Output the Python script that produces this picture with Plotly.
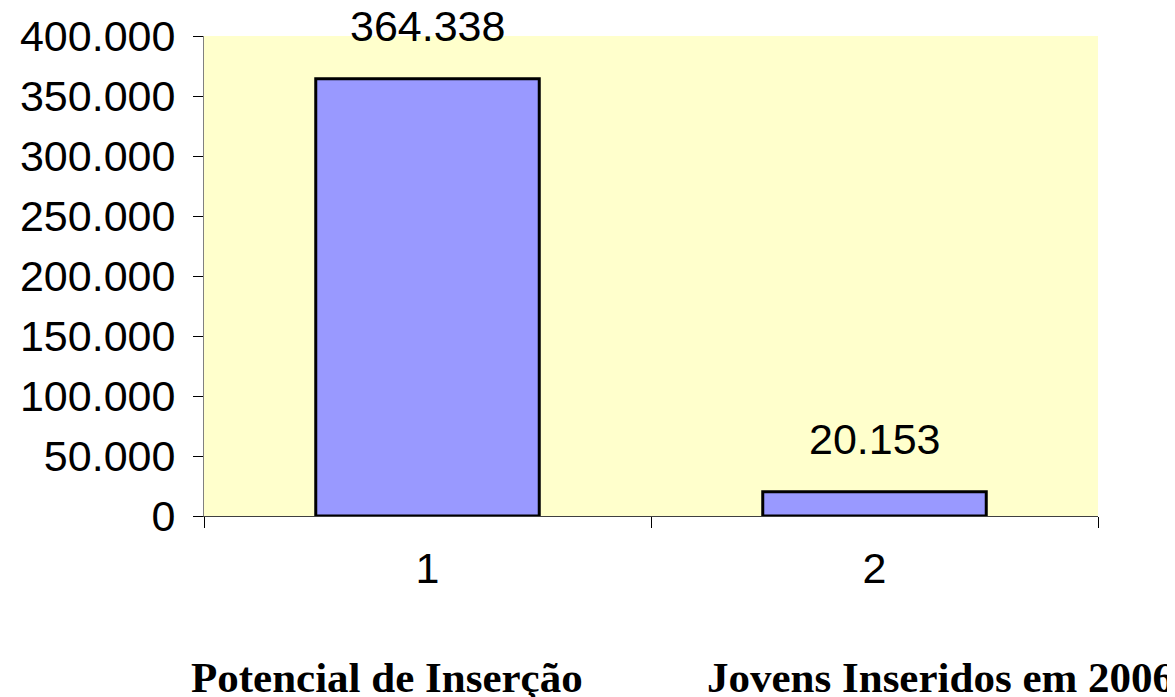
import plotly.graph_objects as go

categories = ["1", "2"]
values = [364338, 20153]
series_names = ["Potencial de Inserção", "Jovens Inseridos em 2006"]
y_ticks = [0, 50000, 100000, 150000, 200000, 250000, 300000, 350000, 400000]


def fmt(v):
    return f"{v:,}".replace(",", ".")


fig = go.Figure()
fig.add_trace(go.Bar(
    x=categories,
    y=values,
    width=0.5,
    marker=dict(color="#9999FF", line=dict(color="#000000", width=3)),
    hoverinfo="x+y",
))

# page body has an 8px margin; figure drawn to fit the 1175x697 window
W, H = 1167, 689
L, R, T, B = 196, 77, 28, 181
pw, ph = W - L - R, H - T - B

annotations = []
for i, v in enumerate(values):
    annotations.append(dict(
        x=i, y=v, xref="x", yref="y", text=fmt(v), showarrow=False,
        yanchor="bottom", yshift=27,
        font=dict(family="Liberation Sans, Arial", size=43, color="#000000"),
    ))

label_px = [387 - 8, 940 - 8]
for name, px in zip(series_names, label_px):
    annotations.append(dict(
        x=(px - L) / pw, y=(T + ph - 669) / ph, xref="paper", yref="paper",
        text=f"<b>{name}</b>", showarrow=False, xanchor="center", yanchor="middle",
        font=dict(family="Liberation Serif, Times New Roman", size=43, color="#000000"),
    ))

fig.update_layout(
    width=W, height=H,
    margin=dict(l=L, r=R, t=T, b=B, pad=0, autoexpand=False),
    paper_bgcolor="#FFFFFF",
    plot_bgcolor="#FFFFCC",
    separators=",.",
    showlegend=False,
    bargap=0.5,
    annotations=annotations,
    font=dict(family="Liberation Sans, Arial", size=43, color="#000000"),
)
fig.update_xaxes(
    type="category",
    automargin=False,
    tickson="boundaries",
    ticks="outside", ticklen=11, tickwidth=1, tickcolor="#000000",
    showline=True, linecolor="#404040", linewidth=1,
    showgrid=False, zeroline=False,
    tickfont=dict(family="Liberation Sans, Arial", size=43, color="#000000"),
    ticklabelstandoff=14,
)
fig.update_yaxes(
    range=[0, 400000],
    automargin=False,
    tickvals=y_ticks,
    ticktext=[fmt(t) for t in y_ticks],
    ticks="outside", ticklen=10, tickwidth=1, tickcolor="#000000",
    showline=True, linecolor="#808080", linewidth=1,
    showgrid=False, zeroline=False,
    tickfont=dict(family="Liberation Sans, Arial", size=43, color="#000000"),
    ticklabelstandoff=9,
)

fig.write_html("out.html")
